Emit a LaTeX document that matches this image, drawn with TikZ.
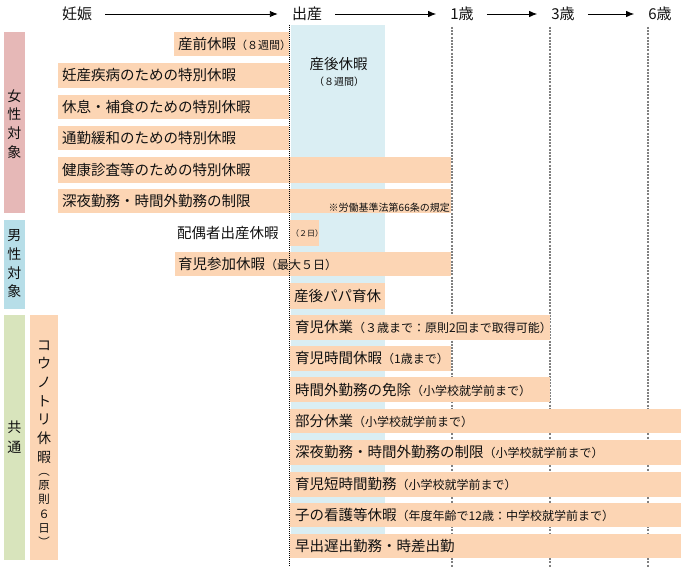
\documentclass[tikz,border=0pt]{standalone}
\usepackage{fontspec}
\setmainfont{Noto Sans CJK JP}
\usetikzlibrary{arrows.meta}
\definecolor{barc}{HTML}{FCD5B4}
\definecolor{bluecol}{HTML}{DAEEF3}
\definecolor{pinkl}{HTML}{E6B8B7}
\definecolor{bluel}{HTML}{B7DEE8}
\definecolor{greenl}{HTML}{D8E4BC}
\definecolor{txt}{HTML}{111111}
\newcommand\Fm{\fontsize{14.5}{16}\selectfont}
\newcommand\Fs{\fontsize{12}{13}\selectfont}
\newcommand\Fh{\fontsize{15}{17}\selectfont}
\begin{document}
\begin{tikzpicture}[x=1pt,y=-1pt,
  lbl/.style={anchor=west,inner sep=0,font=\Fm,text=txt},
  hdr/.style={inner sep=0,font=\Fh,text=txt},
  harrow/.style={-{Latex[length=8pt,width=6.5pt]},line width=0.9pt,shorten <=13pt,shorten >=14pt},
  vlab/.style={inner sep=0,align=center,text=txt,font=\fontsize{14}{18.7}\selectfont},
  gline/.style={draw=gray,line width=1.4pt,dash pattern=on 2pt off 1.2pt},
  kline/.style={draw=black,line width=0.9pt,dash pattern=on 1pt off 1pt}]
\useasboundingbox (0,0) rectangle (689,567);
% header
\node[hdr] (n0) at (77,14) {妊娠};
\node[hdr] (n1) at (307,14) {出産};
\node[hdr] (n2) at (462,14) {1歳};
\node[hdr] (n3) at (563,14) {3歳};
\node[hdr] (n4) at (660,14) {6歳};
\draw[harrow] (n0) -- (n1);
\draw[harrow] (n1) -- (n2);
\draw[harrow] (n2) -- (n3);
\draw[harrow] (n3) -- (n4);
% blue column
\fill[bluecol] (291,25) rectangle (385,537);
\node[inner sep=0,font=\Fm,text=txt] (sango) at (338.5,64) {産後休暇};
\node[inner sep=0,font=\fontsize{10}{12}\selectfont,text=txt] (sango2) at (339,82) {（８週間）};
% gray lines
\coordinate (g1t) at (452,27); \coordinate (g1b) at (452,567);
\coordinate (g2t) at (550,27); \coordinate (g2b) at (550,567);
\coordinate (g3t) at (648,27); \coordinate (g3b) at (648,567);
\draw[gline] (g1t) -- (g1b);
\draw[gline] (g2t) -- (g2b);
\draw[gline] (g3t) -- (g3b);
% left labels
\fill[pinkl] (4,32) rectangle (25,213);
\node[vlab] (lw) at (14.5,124) {女\\性\\対\\象};
\fill[bluel] (4,220) rectangle (25,309);
\node[vlab] (lm) at (14.5,264) {男\\性\\対\\象};
\fill[greenl] (4,315) rectangle (25,560);
\node[vlab,font=\fontsize{14}{20}\selectfont] (lc) at (14.5,437) {共\\通};
\fill[barc] (30,315) rectangle (58,560);
\node[vlab] (kou) at (44,402) {コ\\ウ\\ノ\\ト\\リ\\休\\暇};
\node[vlab,font=\fontsize{11.5}{14.2}\selectfont] (kou2) at (44,510) {︵\\原\\則\\６\\日\\︶};
% rows
\fill[barc] (174,32) rectangle (289,56);
\node[lbl] (r1) at (178,44) {産前休暇{\fontsize{11}{13}\selectfont（８週間）}};
\fill[barc] (58,63) rectangle (289,88);
\node[lbl] (r2) at (62,75.5) {妊産疾病のための特別休暇};
\fill[barc] (58,95) rectangle (289,119);
\node[lbl] (r3) at (62,107) {休息・補食のための特別休暇};
\fill[barc] (58,126) rectangle (289,150);
\node[lbl] (r4) at (62,138) {通勤緩和のための特別休暇};
\fill[barc] (58,157) rectangle (451,183);
\node[lbl] (r5) at (62,170) {健康診査等のための特別休暇};
\fill[barc] (58,189) rectangle (451,213);
\node[lbl] (r6) at (62,201) {深夜勤務・時間外勤務の制限};
\node[inner sep=0,anchor=east,font=\fontsize{10}{12}\selectfont,text=txt] (note) at (450,207.5) {※労働基準法第66条の規定};
\node[lbl] (r7) at (177,233) {配偶者出産休暇};
\fill[barc] (290,220) rectangle (319,246);
\node[lbl,font=\fontsize{8}{10}\selectfont] (r7b) at (291,233) {（２日）};
\fill[barc] (175,252) rectangle (451,276);
\node[lbl] (r8) at (178,264) {育児参加休暇{\Fs（最大５日）}};
\fill[barc] (290,283) rectangle (385,309);
\node[lbl] (r9) at (294,296) {産後パパ育休};
\fill[barc] (290,315) rectangle (550,340);
\node[lbl] (r10) at (295,327.5) {育児休業{\Fs（３歳まで：原則2回まで取得可能）}};
\fill[barc] (290,346) rectangle (451,371);
\node[lbl] (r11) at (295,358.5) {育児時間休暇{\Fs（1歳まで）}};
\fill[barc] (290,377) rectangle (550,402);
\node[lbl] (r12) at (295,389.5) {時間外勤務の免除{\Fs（小学校就学前まで）}};
\fill[barc] (290,409) rectangle (681,433);
\node[lbl] (r13) at (295,421) {部分休業{\Fs（小学校就学前まで）}};
\fill[barc] (290,440) rectangle (681,465);
\node[lbl] (r14) at (295,452.5) {深夜勤務・時間外勤務の制限{\Fs（小学校就学前まで）}};
\fill[barc] (290,472) rectangle (681,497);
\node[lbl] (r15) at (295,484.5) {育児短時間勤務{\Fs（小学校就学前まで）}};
\fill[barc] (290,503) rectangle (681,527);
\node[lbl] (r16) at (295,515) {子の看護等休暇{\Fs（年度年齢で12歳：中学校就学前まで）}};
\fill[barc] (290,534) rectangle (681,558);
\node[lbl] (r17) at (295,546) {早出遅出勤務・時差出勤};
% black dotted line
\coordinate (kt) at (289,25); \coordinate (kb) at (289,567);
\draw[kline] (kt) -- (kb);
\end{tikzpicture}
\end{document}
